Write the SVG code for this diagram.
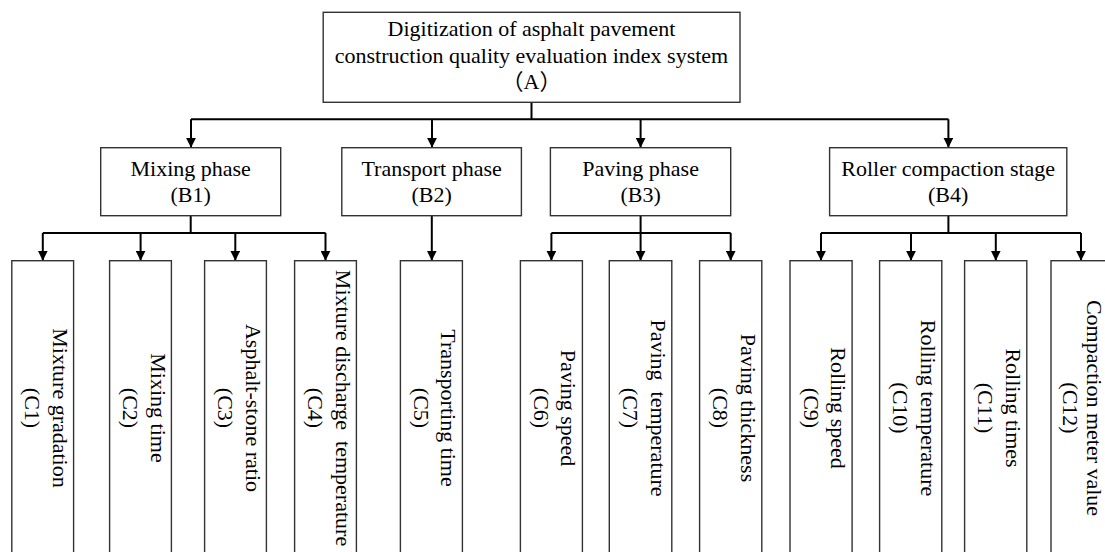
<svg xmlns="http://www.w3.org/2000/svg" width="1105" height="552" viewBox="0 0 1105 552">
<defs>
<marker id="ah" markerWidth="10" markerHeight="10" refX="10" refY="5" orient="auto" markerUnits="userSpaceOnUse">
<path d="M0,0 L10,5 L0,10 z" fill="#000"/>
</marker>
</defs>
<style>
rect.box{fill:#fff;stroke:#333;stroke-width:1.4}
text{font-family:"Liberation Serif","Noto Sans CJK SC",serif;font-size:22px;fill:#000;text-anchor:middle;white-space:pre}
.cn path{fill:none;stroke:#000;stroke-width:2}
.cn path.ar{marker-end:url(#ah)}
</style>
<rect width="1105" height="552" fill="#fff"/>
<g class="cn" id="connectors">
<path d="M531.5,102.3 V119.3"/>
<path d="M191,119.3 H948.5"/>
<path class="ar" d="M191,119.3 V147.7"/>
<path class="ar" d="M432,119.3 V147.7"/>
<path class="ar" d="M640.6,119.3 V147.7"/>
<path class="ar" d="M948.4,119.3 V147.7"/>
<path d="M190.7,215.7 V233 M42.8,233 H325.6"/>
<path class="ar" d="M42.8,233 V260.7"/>
<path class="ar" d="M140.6,233 V260.7"/>
<path class="ar" d="M235.3,233 V260.7"/>
<path class="ar" d="M325.5,233 V260.7"/>
<path class="ar" d="M431.8,215.7 V260.7"/>
<path d="M640.6,215.7 V233 M551.4,233 H730.7"/>
<path class="ar" d="M551.4,233 V260.7"/>
<path class="ar" d="M640.6,233 V260.7"/>
<path class="ar" d="M730.7,233 V260.7"/>
<path d="M948.4,215.7 V233 M821,233 H1081"/>
<path class="ar" d="M821,233 V260.7"/>
<path class="ar" d="M911,233 V260.7"/>
<path class="ar" d="M995.8,233 V260.7"/>
<path class="ar" d="M1081,233 V260.7"/>
</g>
<g id="A">
<rect class="box" x="323.2" y="12.3" width="416.8" height="90"/>
<text x="531.5" y="36">Digitization of asphalt pavement</text>
<text x="531.5" y="62.5">construction quality evaluation index system</text>
<text x="531.5" y="89">（A）</text>
</g>
<g id="B1">
<rect class="box" x="100.7" y="147.7" width="180" height="68"/>
<text x="190.7" y="176">Mixing phase</text>
<text x="190.7" y="202">(B1)</text>
</g>
<g id="B2">
<rect class="box" x="341.8" y="147.7" width="179.6" height="68"/>
<text x="431.6" y="176">Transport phase</text>
<text x="431.6" y="202">(B2)</text>
</g>
<g id="B3">
<rect class="box" x="550.4" y="147.7" width="180.3" height="68"/>
<text x="640.6" y="176">Paving phase</text>
<text x="640.6" y="202">(B3)</text>
</g>
<g id="B4">
<rect class="box" x="829.6" y="147.7" width="237.2" height="68"/>
<text x="948.2" y="176">Roller compaction stage</text>
<text x="948.2" y="202">(B4)</text>
</g>
<g id="C1">
<rect class="box" x="11.8" y="260.7" width="61.8" height="300"/>
<g transform="translate(42.7,408) rotate(90)"><text y="-10">Mixture gradation</text><text y="17.5">(C1)</text></g>
</g>
<g id="C2">
<rect class="box" x="109.6" y="260.7" width="61.8" height="300"/>
<g transform="translate(140.5,408) rotate(90)"><text y="-10">Mixing time</text><text y="17.5">(C2)</text></g>
</g>
<g id="C3">
<rect class="box" x="204.6" y="260.7" width="61.8" height="300"/>
<g transform="translate(235.5,408) rotate(90)"><text y="-10">Asphalt-stone ratio</text><text y="17.5">(C3)</text></g>
</g>
<g id="C4">
<rect class="box" x="294.6" y="260.7" width="61.8" height="300"/>
<g transform="translate(325.5,408) rotate(90)"><text y="-10">Mixture discharge  temperature</text><text y="17.5">(C4)</text></g>
</g>
<g id="C5">
<rect class="box" x="400.4" y="260.7" width="62" height="300"/>
<g transform="translate(431.4,408) rotate(90)"><text y="-10">Transporting time</text><text y="17.5">(C5)</text></g>
</g>
<g id="C6">
<rect class="box" x="520.4" y="260.7" width="62" height="300"/>
<g transform="translate(551.4,408) rotate(90)"><text y="-10">Paving speed</text><text y="17.5">(C6)</text></g>
</g>
<g id="C7">
<rect class="box" x="609.3" y="260.7" width="62.5" height="300"/>
<g transform="translate(640.5,408) rotate(90)"><text y="-10">Paving  temperature</text><text y="17.5">(C7)</text></g>
</g>
<g id="C8">
<rect class="box" x="699.6" y="260.7" width="62.2" height="300"/>
<g transform="translate(730.7,408) rotate(90)"><text y="-10">Paving thickness</text><text y="17.5">(C8)</text></g>
</g>
<g id="C9">
<rect class="box" x="790" y="260.7" width="62.1" height="300"/>
<g transform="translate(821,408) rotate(90)"><text y="-10">Rolling speed</text><text y="17.5">(C9)</text></g>
</g>
<g id="C10">
<rect class="box" x="879.6" y="260.7" width="62.2" height="300"/>
<g transform="translate(910.7,408) rotate(90)"><text y="-10">Rolling temperature</text><text y="17.5">(C10)</text></g>
</g>
<g id="C11">
<rect class="box" x="964.6" y="260.7" width="62.2" height="300"/>
<g transform="translate(995.7,408) rotate(90)"><text y="-10">Rolling times</text><text y="17.5">(C11)</text></g>
</g>
<g id="C12">
<rect class="box" x="1051" y="260.7" width="62" height="300"/>
<g transform="translate(1082,408) rotate(90)"><text y="-4.7">Compaction meter value</text><text y="19">(C12)</text></g>
</g>
</svg>
